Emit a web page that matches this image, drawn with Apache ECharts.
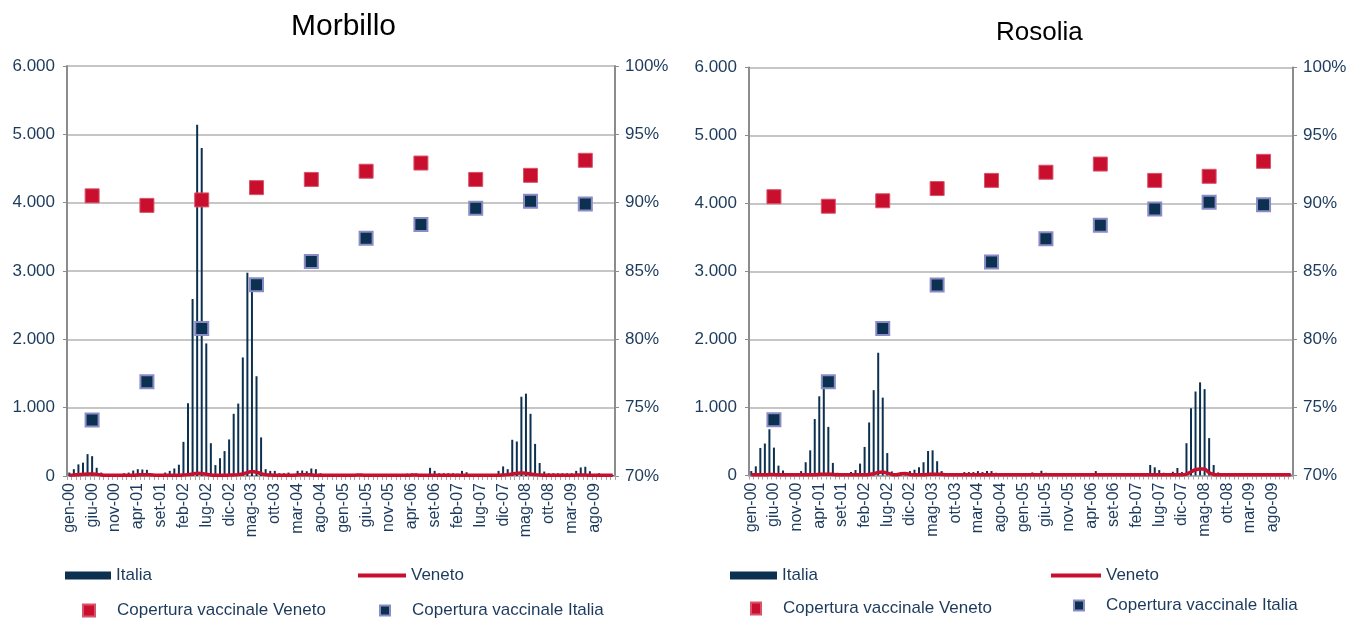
<!DOCTYPE html>
<html>
<head>
<meta charset="utf-8">
<script src="https://cdn.jsdelivr.net/npm/echarts@6/dist/echarts.min.js"></script>
<style>
  html, body { margin: 0; padding: 0; background: #fff; }
  #chart { width: 1350px; height: 619px; }
</style>
</head>
<body>
<div id="chart"></div>
<script>
// mesi gen-00 .. dic-09
const monthNames = ['gen', 'feb', 'mar', 'apr', 'mag', 'giu', 'lug', 'ago', 'set', 'ott', 'nov', 'dic']
const yearNames = ['00', '01', '02', '03', '04', '05', '06', '07', '08', '09']
const months = []
yearNames.forEach(y => monthNames.forEach(m => months.push(m + '-' + y)))

// Morbillo - casi mensili
const morbilloItalia = [
  50, 100, 170, 195, 320, 290, 120, 50, 25, 15, 15, 20,
  40, 50, 80, 100, 95, 90, 35, 15, 10, 50, 75, 110,
  165, 500, 1065, 2590, 5140, 4800, 1940, 480, 160, 260, 365, 535,
  910, 1060, 1735, 2975, 2890, 1460, 565, 100, 75, 75, 40, 40,
  50, 30, 75, 80, 70, 110, 100, 40, 15, 15, 20, 15,
  20, 15, 25, 15, 25, 15, 15, 15, 15, 15, 15, 15,
  20, 20, 35, 35, 35, 30, 25, 120, 75, 40, 40, 40,
  40, 35, 75, 55, 25, 20, 20, 20, 15, 20, 75, 140,
  100, 530, 505, 1160, 1205, 910, 470, 190, 65, 40, 40, 40,
  40, 40, 40, 75, 125, 135, 70, 20, 40, 15, 15, 15
]
const morbilloVeneto = [
  10, 15, 20, 25, 30, 30, 25, 15, 10, 10, 10, 10,
  10, 10, 10, 15, 20, 20, 15, 10, 10, 10, 10, 10,
  10, 15, 20, 30, 40, 35, 25, 15, 10, 10, 10, 15,
  15, 20, 30, 50, 65, 55, 35, 20, 15, 10, 10, 10,
  10, 10, 15, 20, 20, 15, 10, 10, 10, 10, 10, 10,
  10, 10, 10, 15, 15, 10, 10, 10, 10, 10, 10, 10,
  10, 10, 10, 15, 15, 10, 10, 10, 10, 10, 10, 10,
  10, 10, 10, 10, 10, 10, 10, 10, 10, 10, 10, 15,
  20, 30, 40, 45, 40, 30, 20, 15, 10, 10, 10, 10,
  10, 10, 10, 15, 15, 15, 10, 10, 10, 10, 10, 10
]

// Rosolia - casi mensili
const rosoliaItalia = [
  65, 135, 405, 470, 680, 410, 145, 75, 15, 10, 10, 65,
  195, 370, 830, 1165, 1350, 715, 185, 40, 10, 10, 50, 80,
  175, 420, 780, 1255, 1805, 1145, 330, 60, 30, 40, 45, 65,
  85, 120, 195, 360, 370, 210, 65, 30, 30, 30, 30, 50,
  50, 50, 65, 50, 65, 65, 40, 20, 20, 20, 20, 20,
  20, 20, 45, 20, 70, 40, 20, 20, 15, 15, 15, 15,
  15, 15, 15, 15, 65, 15, 15, 15, 15, 15, 15, 15,
  15, 15, 15, 15, 155, 120, 80, 40, 30, 55, 110, 50,
  475, 990, 1235, 1370, 1270, 550, 155, 45, 30, 20, 20, 20,
  25, 25, 30, 30, 35, 25, 20, 20, 15, 15, 15, 15
]
const rosoliaVeneto = [
  10, 10, 10, 10, 15, 15, 10, 10, 10, 10, 10, 10,
  10, 10, 10, 15, 20, 20, 15, 10, 10, 10, 10, 10,
  10, 10, 15, 25, 45, 50, 35, 15, 10, 25, 30, 15,
  10, 10, 10, 15, 20, 20, 15, 10, 10, 10, 10, 10,
  10, 10, 10, 10, 10, 10, 10, 10, 10, 10, 10, 10,
  10, 10, 10, 10, 10, 10, 10, 10, 10, 10, 10, 10,
  10, 10, 10, 10, 10, 10, 10, 10, 10, 10, 10, 10,
  10, 10, 10, 10, 10, 10, 10, 10, 10, 10, 10, 10,
  20, 55, 85, 95, 95, 40, 15, 10, 10, 10, 10, 10,
  10, 10, 10, 10, 10, 10, 10, 10, 10, 10, 10, 10
]

// copertura vaccinale (%), un valore per anno (giugno)
const coperturaVeneto = [90.5, 89.8, 90.2, 91.1, 91.7, 92.3, 92.9, 91.7, 92.0, 93.1]
const coperturaItalia = [74.1, 76.9, 80.8, 84.0, 85.7, 87.4, 88.4, 89.6, 90.1, 89.9]

const NAVY = '#0c3150'
const RED = '#c8102e'
const TXT = '#1c3a5c'
const GRID = '#b3b3b3'
const FONT = 'Liberation Sans'

const chart = echarts.init(document.getElementById('chart'))

// punti di copertura collocati a giugno di ogni anno
function yearly (vals) {
  return vals.map((v, k) => [months[5 + 12 * k], v])
}

function thousands (v) {
  return v === 0 ? '0' : (v / 1000) + '.000'
}

function xAxisFor (gi) {
  return {
    type: 'category',
    gridIndex: gi,
    data: months,
    axisLine: { lineStyle: { color: '#a6a6a6', width: 1.5 } },
    axisTick: { show: true, interval: 0, length: 4, lineStyle: { color: '#a6a6a6' } },
    axisLabel: { interval: 4, rotate: 90, fontSize: 16, color: TXT, margin: 7, fontFamily: FONT }
  }
}

function yAxesFor (gi) {
  return [
    {
      type: 'value',
      gridIndex: gi,
      min: 0,
      max: 6000,
      interval: 1000,
      axisLine: { show: true, lineStyle: { color: '#8c8c8c', width: 2 } },
      axisTick: { show: true, length: 4, lineStyle: { color: '#8c8c8c' } },
      splitLine: { lineStyle: { color: GRID, width: 1.5 } },
      axisLabel: { formatter: thousands, fontSize: 17, color: TXT, margin: 12, fontFamily: FONT }
    },
    {
      type: 'value',
      gridIndex: gi,
      position: 'right',
      min: 70,
      max: 100,
      interval: 5,
      axisLine: { show: true, lineStyle: { color: '#8c8c8c', width: 2 } },
      axisTick: { show: true, length: 4, lineStyle: { color: '#8c8c8c' } },
      splitLine: { show: false },
      axisLabel: { formatter: '{value}%', fontSize: 17, color: TXT, margin: 10, fontFamily: FONT }
    }
  ]
}

function seriesFor (gi, italia, veneto) {
  const xi = gi
  const yl = gi * 2
  return [
    {
      name: 'Italia',
      type: 'bar',
      xAxisIndex: xi,
      yAxisIndex: yl,
      barWidth: 2,
      itemStyle: { color: NAVY },
      data: italia
    },
    {
      name: 'Veneto',
      type: 'line',
      xAxisIndex: xi,
      yAxisIndex: yl,
      symbol: 'none',
      smooth: 0.3,
      lineStyle: { color: RED, width: 3.5 },
      itemStyle: { color: RED },
      data: veneto
    },
    {
      name: 'Copertura vaccinale Veneto',
      type: 'scatter',
      xAxisIndex: xi,
      yAxisIndex: yl + 1,
      symbol: 'rect',
      symbolSize: 14,
      itemStyle: { color: RED, borderColor: '#d9536b', borderWidth: 1, opacity: 1 },
      z: 5,
      data: yearly(coperturaVeneto)
    },
    {
      name: 'Copertura vaccinale Italia',
      type: 'scatter',
      xAxisIndex: xi,
      yAxisIndex: yl + 1,
      symbol: 'rect',
      symbolSize: 13,
      itemStyle: { color: NAVY, borderColor: '#8a8cc6', borderWidth: 2, opacity: 1 },
      z: 5,
      data: yearly(coperturaItalia)
    }
  ]
}

const legText = { fontSize: 17, color: TXT, fontFamily: FONT }
function leg (name, left, top, w, h, extra) {
  return Object.assign({
    left: left,
    top: top,
    padding: 0,
    selectedMode: false,
    itemWidth: w,
    itemHeight: h,
    textStyle: legText,
    data: [{ name: name, icon: 'rect' }]
  }, extra || {})
}
const pad = { textStyle: Object.assign({}, legText, { padding: [0, 0, 0, 17] }) }
const lineLeg = { itemStyle: { color: RED }, lineStyle: { opacity: 0 } }

const option = {
  backgroundColor: '#fff',
  animation: false,
  title: [
    { text: 'Morbillo', left: 286, top: 7, textStyle: { fontSize: 30, fontWeight: 'normal', color: '#000', fontFamily: FONT } },
    { text: 'Rosolia', left: 991, top: 15, textStyle: { fontSize: 26, fontWeight: 'normal', color: '#000', fontFamily: FONT } }
  ],
  legend: [
    leg('Italia', 65, 567, 46, 8),
    leg('Veneto', 358, 567, 48, 4, lineLeg),
    leg('Copertura vaccinale Veneto', 82, 602, 12, 12, pad),
    leg('Copertura vaccinale Italia', 379, 602, 10, 10, pad),
    leg('Italia', 730, 567, 47, 8),
    leg('Veneto', 1051, 567, 50, 4, lineLeg),
    leg('Copertura vaccinale Veneto', 750, 600, 10, 12, pad),
    leg('Copertura vaccinale Italia', 1073, 597, 10, 10, pad)
  ],
  grid: [
    { left: 67, top: 66, width: 548, height: 410 },
    { left: 749, top: 67.5, width: 544, height: 408 }
  ],
  xAxis: [xAxisFor(0), xAxisFor(1)],
  yAxis: yAxesFor(0).concat(yAxesFor(1)),
  series: seriesFor(0, morbilloItalia, morbilloVeneto).concat(seriesFor(1, rosoliaItalia, rosoliaVeneto))
}

chart.setOption(option)
</script>
</body>
</html>
